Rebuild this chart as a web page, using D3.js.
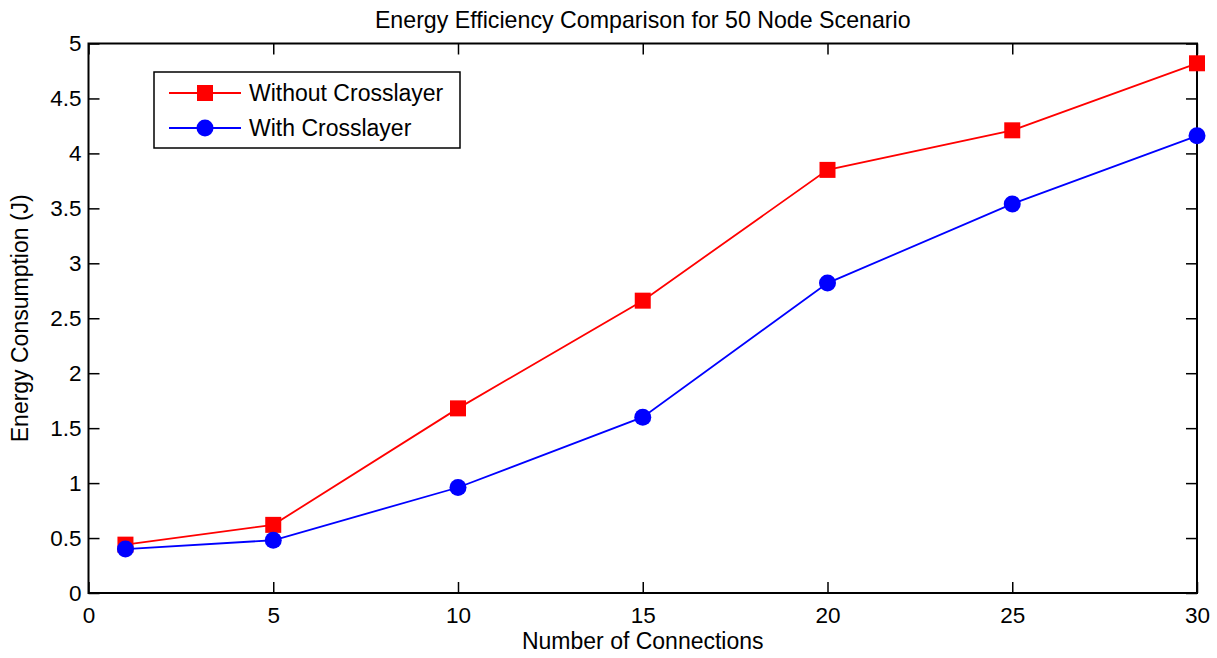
<!DOCTYPE html>
<html>
<head>
<meta charset="utf-8">
<script src="https://cdn.jsdelivr.net/npm/d3@7"></script>
<style>
  html, body { margin: 0; padding: 0; background: #fff; }
  svg { display: block; font-family: "Liberation Sans", Arial, Helvetica, sans-serif; }
  .axis text { font-size: 22.5px; fill: #000; }
  .axis line { stroke: #000; stroke-width: 1.5; }
  .axis path { display: none; }
</style>
</head>
<body>
<div id="chart"></div>
<script>
//** data
const connections = [1, 5, 10, 15, 20, 25, 30];
const withoutCrosslayer = [0.44, 0.62, 1.68, 2.66, 3.85, 4.21, 4.82];
const withCrosslayer = [0.40, 0.48, 0.96, 1.60, 2.82, 3.54, 4.16];
const xTicks = [0, 5, 10, 15, 20, 25, 30];
const yTicks = [0, 0.5, 1, 1.5, 2, 2.5, 3, 3.5, 4, 4.5, 5];
const seriesNames = ['Without Crosslayer', 'With Crosslayer'];

const W = 1217, H = 658;
const margins = { top: 43.5, right: 20, bottom: 65, left: 88.5 };
const w = W - margins.left - margins.right;
const h = H - margins.top - margins.bottom;

const svg = d3.select('#chart').append('svg')
  .attr('width', W)
  .attr('height', H);

const g = svg.append('g')
  .attr('transform', 'translate(' + margins.left + ',' + margins.top + ')');

//** scales
const x = d3.scaleLinear().domain([0, 30]).range([0, w]);
const y = d3.scaleLinear().domain([0, 5]).range([h, 0]);

//** axes, ticks pointing inward on all four sides
g.append('g')
  .attr('class', 'axis')
  .attr('transform', 'translate(0,' + h + ')')
  .call(d3.axisBottom(x).tickValues(xTicks).tickSize(-11).tickPadding(14))
  .selectAll('text').attr('dy', '0.71em');

g.append('g')
  .attr('class', 'axis')
  .call(d3.axisTop(x).tickValues(xTicks).tickSize(-11).tickFormat(''));

g.append('g')
  .attr('class', 'axis')
  .call(d3.axisLeft(y).tickValues(yTicks).tickSize(-11).tickPadding(7)
    .tickFormat(d3.format('')));

g.append('g')
  .attr('class', 'axis')
  .attr('transform', 'translate(' + w + ',0)')
  .call(d3.axisRight(y).tickValues(yTicks).tickSize(-11).tickFormat(''));

//** frame
g.append('rect')
  .attr('width', w)
  .attr('height', h)
  .attr('fill', 'none')
  .attr('stroke', '#000')
  .attr('stroke-width', 2);

//** series
const series = [
  { name: seriesNames[0], values: withoutCrosslayer, color: '#ff0000', marker: 'square' },
  { name: seriesNames[1], values: withCrosslayer, color: '#0000ff', marker: 'circle' }
];

const line = d3.line()
  .x((d, i) => x(connections[i]))
  .y(d => y(d));

function drawMarker(sel, type, color) {
  if (type === 'square') {
    sel.append('rect')
      .attr('x', -8).attr('y', -8)
      .attr('width', 16).attr('height', 16)
      .attr('fill', color);
  } else {
    sel.append('circle')
      .attr('r', 8.5)
      .attr('fill', color);
  }
}

series.forEach(s => {
  g.append('path')
    .datum(s.values)
    .attr('fill', 'none')
    .attr('stroke', s.color)
    .attr('stroke-width', 1.8)
    .attr('d', line);

  s.values.forEach((v, i) => {
    const m = g.append('g')
      .attr('transform', 'translate(' + x(connections[i]) + ',' + y(v) + ')');
    drawMarker(m, s.marker, s.color);
  });
});

//** legenda
const legenda = svg.append('g').attr('transform', 'translate(154,72)');
legenda.append('rect')
  .attr('width', 306)
  .attr('height', 76)
  .attr('fill', '#fff')
  .attr('stroke', '#000')
  .attr('stroke-width', 1.5);

series.forEach((s, i) => {
  const row = legenda.append('g')
    .attr('transform', 'translate(0,' + (21 + i * 35) + ')');
  row.append('line')
    .attr('x1', 15).attr('x2', 87)
    .attr('stroke', s.color)
    .attr('stroke-width', 1.8);
  const m = row.append('g').attr('transform', 'translate(51,0)');
  drawMarker(m, s.marker, s.color);
  row.append('text')
    .attr('x', 95)
    .attr('dy', '0.36em')
    .attr('font-size', 23)
    .text(s.name);
});

//** title and labels
svg.append('text')
  .attr('x', margins.left + w / 2)
  .attr('y', 28)
  .attr('text-anchor', 'middle')
  .attr('font-size', 23.2)
  .text('Energy Efficiency Comparison for 50 Node Scenario');

svg.append('text')
  .attr('x', margins.left + w / 2)
  .attr('y', 649)
  .attr('text-anchor', 'middle')
  .attr('font-size', 23)
  .text('Number of Connections');

svg.append('text')
  .attr('transform', 'translate(28,' + (margins.top + h / 2) + ') rotate(-90)')
  .attr('text-anchor', 'middle')
  .attr('font-size', 23)
  .text('Energy Consumption (J)');
</script>
</body>
</html>
